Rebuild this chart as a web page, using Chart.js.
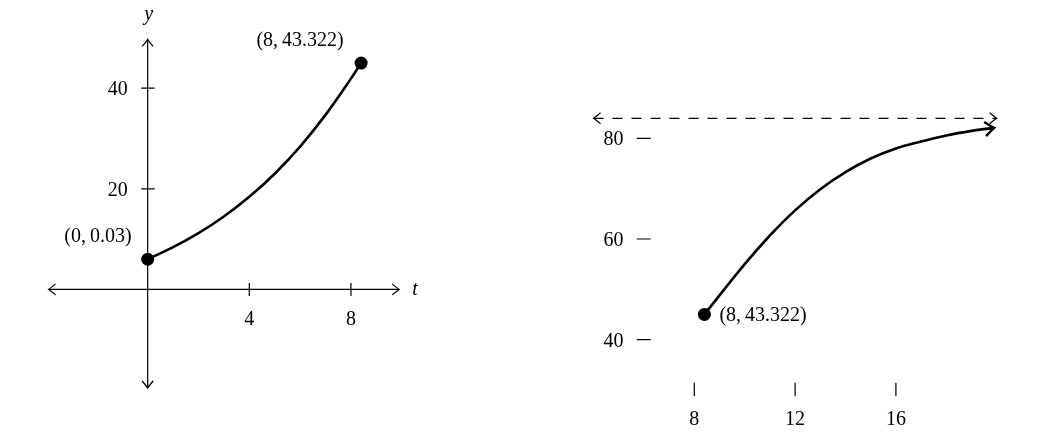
<!DOCTYPE html>
<html>
<head>
<meta charset="utf-8">
<script src="https://cdn.jsdelivr.net/npm/chart.js@4"></script>
<style>
  body { margin: 0; background: #fff; }
  #wrap { position: relative; width: 1064px; height: 440px; }
  canvas { position: absolute; left: 0; top: 0; }
</style>
</head>
<body>
<div id="wrap">
  <canvas id="left" width="1064" height="440"></canvas>
  <canvas id="right" width="1064" height="440"></canvas>
</div>
<script>
// left panel: the curve from t = 0 up to the first marked point
const leftT = [0, 1, 2, 3, 4, 5, 6, 7, 8, 8.4];
const leftY = [6.0, 8.4, 11.2, 14.5, 18.4, 23.0, 28.4, 34.7, 41.9, 45.0];
const leftXTicks = [4, 8];
const leftYTicks = [20, 40];
const leftLabels = ["(0,\u20090.03)", "(8,\u200943.322)"];

// right panel: the same curve carried on towards its ceiling
const rightT = [8.4, 10, 11, 12, 13, 14, 15, 16, 17, 18, 19, 19.9];
const rightY = [45.0, 55.0, 60.7, 65.7, 69.9, 73.3, 76.0, 78.0, 79.4, 80.6, 81.5, 82.1];
const rightXTicks = [8, 12, 16];
const rightYTicks = [40, 60, 80];
const rightLabel = "(8,\u200943.322)";
const ceiling = 84;
const ceilingSpan = [4, 20];

const FONT = '"Liberation Serif", "Times New Roman", serif';

function toPoints(xs, ys) {
  return xs.map((x, i) => ({ x: x, y: ys[i] }));
}

// open "to" style arrow tip, pointing along ang
function arrowHead(ctx, x, y, ang, s) {
  ctx.save();
  ctx.translate(x, y);
  ctx.rotate(ang);
  ctx.beginPath();
  ctx.moveTo(-7 * s, -5.5 * s);
  ctx.quadraticCurveTo(-2 * s, -1.2 * s, 0, 0);
  ctx.quadraticCurveTo(-2 * s, 1.2 * s, -7 * s, 5.5 * s);
  ctx.stroke();
  ctx.restore();
}

function text(ctx, str, x, y, align, italic) {
  ctx.font = (italic ? "italic " : "") + "20px " + FONT;
  ctx.textAlign = align;
  ctx.textBaseline = "alphabetic";
  ctx.fillStyle = "#000";
  ctx.fillText(str, x, y);
}

const baseOptions = {
  responsive: false,
  animation: false,
  events: [],
  plugins: { legend: { display: false }, tooltip: { enabled: false } },
};

// ---- left chart ----
const leftAxes = {
  id: "leftAxes",
  beforeDatasetsDraw(chart) {
    const { ctx, scales: { x, y } } = chart;
    const x0 = x.getPixelForValue(0);
    const y0 = y.getPixelForValue(0);
    ctx.save();
    ctx.strokeStyle = "#000";
    ctx.lineWidth = 1.2;
    ctx.beginPath();
    ctx.moveTo(x.left, y0);
    ctx.lineTo(x.right, y0);
    ctx.moveTo(x0, y.top);
    ctx.lineTo(x0, y.bottom);
    leftXTicks.forEach(v => {
      const px = x.getPixelForValue(v);
      ctx.moveTo(px, y0 - 6.5);
      ctx.lineTo(px, y0 + 6.5);
    });
    leftYTicks.forEach(v => {
      const py = y.getPixelForValue(v);
      ctx.moveTo(x0 - 6.5, py);
      ctx.lineTo(x0 + 7, py);
    });
    ctx.stroke();
    arrowHead(ctx, x.right, y0, 0, 1);
    arrowHead(ctx, x.left, y0, Math.PI, 1);
    arrowHead(ctx, x0, y.top, -Math.PI / 2, 1);
    arrowHead(ctx, x0, y.bottom, Math.PI / 2, 1);
    ctx.restore();
  },
  afterDatasetsDraw(chart) {
    const { ctx, scales: { x, y } } = chart;
    const x0 = x.getPixelForValue(0);
    const y0 = y.getPixelForValue(0);
    leftXTicks.forEach(v => text(ctx, String(v), x.getPixelForValue(v), y0 + 36, "center"));
    leftYTicks.forEach(v => text(ctx, String(v), x0 - 20, y.getPixelForValue(v) + 7, "right"));
    text(ctx, "y", x0 + 1, 20, "center", true);
    text(ctx, "t", x.right + 13, y0 + 6, "left", true);
    const n = leftT.length - 1;
    const p0x = x.getPixelForValue(leftT[0]), p0y = y.getPixelForValue(leftY[0]);
    const p1x = x.getPixelForValue(leftT[n]), p1y = y.getPixelForValue(leftY[n]);
    text(ctx, leftLabels[0], p0x - 16, p0y - 17, "right");
    text(ctx, leftLabels[1], p1x - 61, p1y - 17, "center");
  }
};

new Chart(document.getElementById("left"), {
  type: "scatter",
  data: {
    datasets: [
      {
        data: toPoints(leftT, leftY),
        showLine: true,
        borderColor: "#000",
        borderWidth: 2.6,
        pointRadius: 0,
        tension: 0.4,
        clip: false,
      },
      {
        data: [
          { x: leftT[0], y: leftY[0] },
          { x: leftT[leftT.length - 1], y: leftY[leftY.length - 1] },
        ],
        pointRadius: 6.5,
        pointBackgroundColor: "#000",
        pointBorderWidth: 0,
        clip: false,
      },
    ],
  },
  options: {
    ...baseOptions,
    layout: { padding: { left: 48.6, right: 664.8, top: 39.4, bottom: 52 } },
    scales: {
      x: { type: "linear", min: -3.9, max: 9.9, display: false },
      y: { type: "linear", min: -19.6, max: 49.7, display: false },
    },
  },
  plugins: [leftAxes],
});

// ---- right chart ----
const rightAxes = {
  id: "rightAxes",
  afterDatasetsDraw(chart) {
    const { ctx, scales: { x, y } } = chart;
    ctx.save();
    ctx.strokeStyle = "#000";
    ctx.lineWidth = 1.2;
    ctx.beginPath();
    rightYTicks.forEach(v => {
      const py = y.getPixelForValue(v);
      ctx.moveTo(636.7, py);
      ctx.lineTo(650.7, py);
    });
    rightXTicks.forEach(v => {
      const px = x.getPixelForValue(v);
      ctx.moveTo(px, 382.7);
      ctx.lineTo(px, 396);
    });
    ctx.stroke();
    // ends of the dashed ceiling
    const cy = y.getPixelForValue(ceiling);
    arrowHead(ctx, x.getPixelForValue(ceilingSpan[0]), cy, Math.PI, 1);
    arrowHead(ctx, x.getPixelForValue(ceilingSpan[1]), cy, 0, 1);
    // tip of the curve
    const pts = chart.getDatasetMeta(0).data;
    const a = pts[pts.length - 2], b = pts[pts.length - 1];
    ctx.lineWidth = 2.4;
    arrowHead(ctx, b.x, b.y, Math.atan2(b.y - a.y, b.x - a.x), 1.3);
    ctx.restore();

    rightYTicks.forEach(v => text(ctx, String(v), 623.5, y.getPixelForValue(v) + 7, "right"));
    rightXTicks.forEach(v => text(ctx, String(v), x.getPixelForValue(v), 425, "center"));
    const px = x.getPixelForValue(rightT[0]), py = y.getPixelForValue(rightY[0]);
    text(ctx, rightLabel, px + 15, py + 7, "left");
  }
};

new Chart(document.getElementById("right"), {
  type: "scatter",
  data: {
    datasets: [
      {
        data: toPoints(rightT, rightY),
        showLine: true,
        borderColor: "#000",
        borderWidth: 2.6,
        pointRadius: 0,
        tension: 0.4,
        clip: false,
      },
      {
        data: [{ x: rightT[0], y: rightY[0] }],
        pointRadius: 6.5,
        pointBackgroundColor: "#000",
        pointBorderWidth: 0,
        clip: false,
      },
      {
        data: [
          { x: ceilingSpan[0], y: ceiling },
          { x: ceilingSpan[1], y: ceiling },
        ],
        showLine: true,
        borderColor: "#000",
        borderWidth: 1.2,
        borderDash: [10, 9],
        pointRadius: 0,
        clip: false,
      },
    ],
  },
  options: {
    ...baseOptions,
    layout: { padding: { left: 593.5, right: 67.3, top: 118.3, bottom: 50.1 } },
    scales: {
      x: { type: "linear", min: 4, max: 20, display: false },
      y: { type: "linear", min: 30, max: 84, display: false },
    },
  },
  plugins: [rightAxes],
});
</script>
</body>
</html>
